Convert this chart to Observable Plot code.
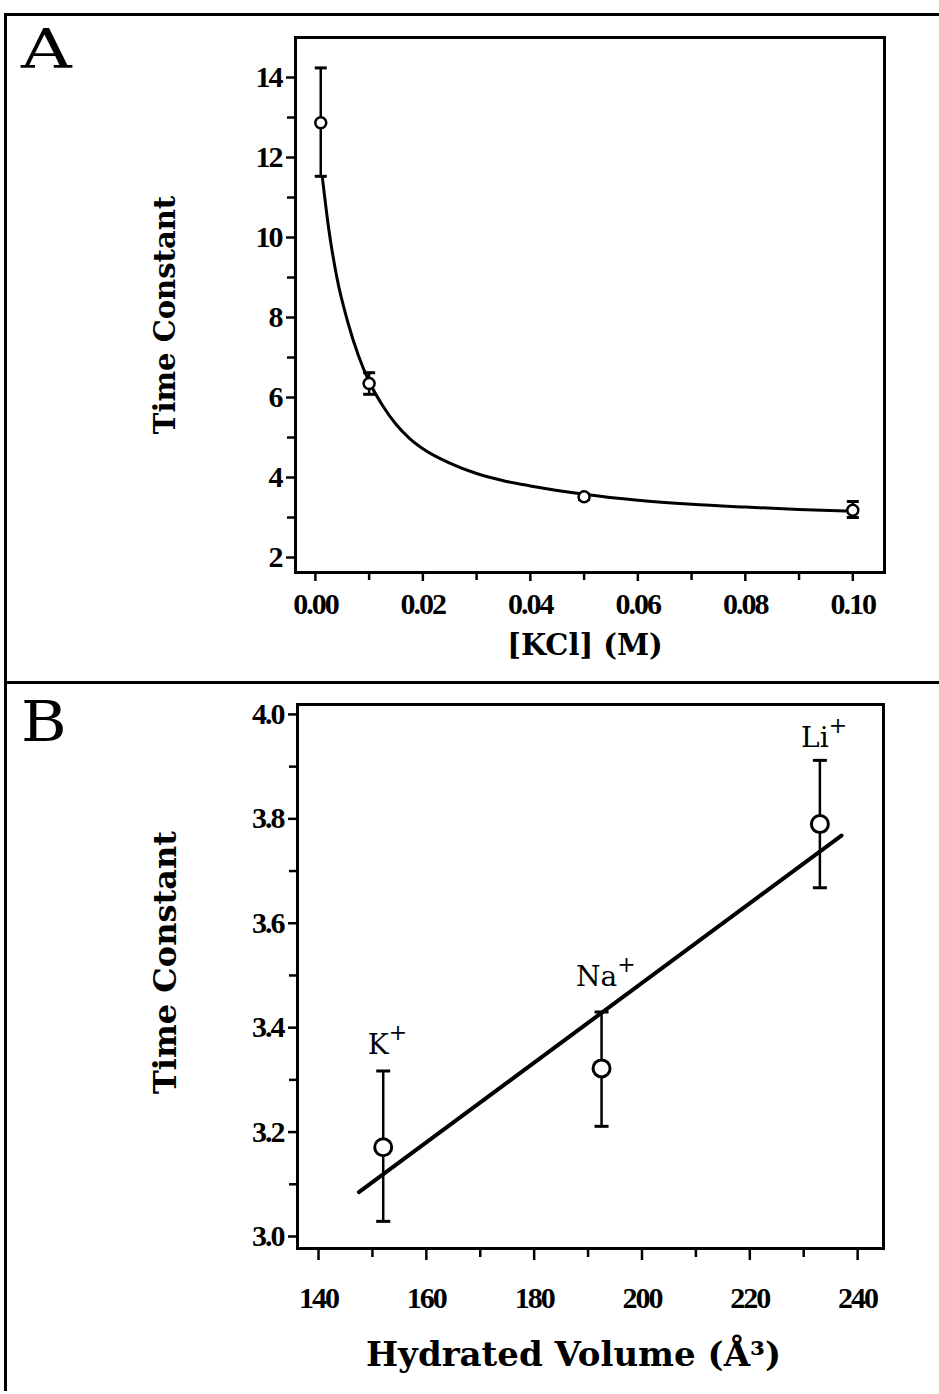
<!DOCTYPE html>
<html><head><meta charset="utf-8">
<script src="https://cdn.jsdelivr.net/npm/d3@7"></script>
<script src="https://cdn.jsdelivr.net/npm/@observablehq/plot@0.6"></script>
<style>
body{margin:0;background:#fff;}
#wrap{position:relative;width:939px;height:1394px;overflow:hidden;background:#fff;}
.panel{position:absolute;left:0;}
.line{position:absolute;background:#000;z-index:5;}
.letter{position:absolute;font-family:"DejaVu Serif",serif;font-size:54px;line-height:1;color:#000;z-index:5;transform-origin:0 0;}
svg g[aria-label$="tick label"]{letter-spacing:-2px;}
</style></head><body>
<div id="wrap">
 <div id="pa" class="panel" style="top:0"></div>
 <div id="pb" class="panel" style="top:683px"></div>
 <div class="line" style="left:4px;top:13px;width:935px;height:3px"></div>
 <div class="line" style="left:4px;top:13px;width:3px;height:1378px"></div>
 <div class="line" style="left:4px;top:681px;width:935px;height:3px"></div>
 <div class="letter" style="left:21px;top:23px;transform:scale(1.3,1)">A</div>
 <div class="letter" style="left:21px;top:694px;transform:scale(1.15,1.05)">B</div>
</div>
<script>
// Panel A data
const kclConc = [0.001, 0.01, 0.05, 0.10];
const kclTau = [12.87, 6.35, 3.52, 3.18];
const kclLow = [11.53, 6.08, 3.45, 3.0];
const kclHigh = [14.24, 6.62, 3.58, 3.4];
const fitConc = [0.0013, 0.0025, 0.004, 0.006, 0.008, 0.01, 0.0125, 0.015, 0.0175, 0.02, 0.025, 0.03, 0.035, 0.04, 0.05, 0.06, 0.07, 0.08, 0.09, 0.1];
const fitTau = [11.5, 10.2, 9.0, 7.9, 7.05, 6.4, 5.8, 5.33, 4.98, 4.72, 4.36, 4.1, 3.92, 3.79, 3.58, 3.43, 3.33, 3.26, 3.2, 3.16];
const kclTicks = [0, 0.02, 0.04, 0.06, 0.08, 0.10];
const kclMinor = [0.01, 0.03, 0.05, 0.07, 0.09];
const tauTicksA = [2, 4, 6, 8, 10, 12, 14];
const tauMinorA = [3, 5, 7, 9, 11, 13];

// Panel B data
const ions = ["K", "Na", "Li"];
const hydVol = [152, 192.5, 233];
const ionTau = [3.171, 3.322, 3.79];
const ionLow = [3.029, 3.211, 3.668];
const ionHigh = [3.317, 3.43, 3.912];
const ionLabelTau = [3.366, 3.497, 3.955];
const lineVol = [147.5, 237];
const lineTau = [3.085, 3.768];
const volTicks = [140, 160, 180, 200, 220, 240];
const volMinor = [150, 170, 190, 210, 230];
const tauTicksB = [3.0, 3.2, 3.4, 3.6, 3.8, 4.0];
const tauMinorB = [3.1, 3.3, 3.5, 3.7, 3.9];

const capSymbol = {draw(ctx, size) { const w = Math.sqrt(size / Math.PI); ctx.moveTo(-w, 0); ctx.lineTo(w, 0); }};
const tickFont = "'Liberation Serif', serif";
const titleFont = "'DejaVu Serif', serif";
const ionFontSize = 28;

const rowsA = kclConc.map((x, i) => ({x, y: kclTau[i], lo: kclLow[i], hi: kclHigh[i]}));
const fitA = fitConc.map((x, i) => ({x, y: fitTau[i]}));

const plotA = Plot.plot({
  width: 939, height: 683,
  marginLeft: 295, marginRight: 55, marginTop: 37, marginBottom: 111,
  style: {background: "transparent", fontFamily: tickFont, fontSize: "30px", color: "#000", overflow: "visible"},
  x: {domain: [-0.0037, 0.1059]},
  y: {domain: [1.625, 15]},
  marks: [
    Plot.frame({stroke: "#000", strokeWidth: 3}),
    Plot.axisX(kclTicks, {tickSize: 9, tickPadding: 11, strokeWidth: 2.5, tickFormat: d3.format(".2f"), fontSize: 30, fontWeight: "bold", label: null}),
    Plot.axisX(kclMinor, {tickSize: 8, strokeWidth: 2.5, text: null, label: null}),
    Plot.axisY(tauTicksA, {tickSize: 9, tickPadding: 5, strokeWidth: 2.5, fontSize: 30, fontWeight: "bold", label: null}),
    Plot.axisY(tauMinorA, {tickSize: 8, strokeWidth: 2.5, text: null, label: null}),
    Plot.text(["[KCl] (M)"], {frameAnchor: "bottom", dx: -5, dy: 82, fontFamily: titleFont, fontSize: 29, fontWeight: "bold"}),
    Plot.text(["Time Constant"], {frameAnchor: "left", textAnchor: "middle", dx: -130, dy: 10, rotate: -90, fontFamily: titleFont, fontSize: 29, fontWeight: "bold"}),
    Plot.line(fitA, {x: "x", y: "y", curve: "monotone-x", stroke: "#000", strokeWidth: 3}),
    Plot.ruleX(rowsA, {x: "x", y1: "lo", y2: "hi", stroke: "#000", strokeWidth: 2.5}),
    Plot.dot(rowsA, {x: "x", y: "lo", symbol: capSymbol, r: 6, stroke: "#000", strokeWidth: 3, fill: "none"}),
    Plot.dot(rowsA, {x: "x", y: "hi", symbol: capSymbol, r: 6, stroke: "#000", strokeWidth: 3, fill: "none"}),
    Plot.dot(rowsA, {x: "x", y: "y", r: 5.5, fill: "#fff", stroke: "#000", strokeWidth: 2.5})
  ]
});
document.getElementById("pa").appendChild(plotA);

const rowsB = ions.map((name, i) => ({name, x: hydVol[i], y: ionTau[i], lo: ionLow[i], hi: ionHigh[i], ly: ionLabelTau[i]}));
const fitB = lineVol.map((x, i) => ({x, y: lineTau[i]}));

// measure ion label widths so the "+" superscript sits right after each name
const ctx = document.createElement("canvas").getContext("2d");
ctx.font = `${ionFontSize}px 'DejaVu Serif'`;
const plusMarks = rowsB.map(d => Plot.text([d], {
  x: "x", y: "ly", text: () => "+", textAnchor: "start",
  dx: ctx.measureText(d.name).width / 2 - 5, dy: -12,
  fontFamily: titleFont, fontSize: 22
}));

const plotB = Plot.plot({
  width: 939, height: 711,
  marginLeft: 297, marginRight: 56, marginTop: 21, marginBottom: 146,
  style: {background: "transparent", fontFamily: tickFont, fontSize: "30px", color: "#000", overflow: "visible"},
  x: {domain: [136.1, 244.8]},
  y: {domain: [2.977, 4.019]},
  marks: [
    Plot.frame({stroke: "#000", strokeWidth: 3}),
    Plot.axisX(volTicks, {tickSize: 12, tickPadding: 26, strokeWidth: 2.5, fontSize: 30, fontWeight: "bold", label: null}),
    Plot.axisX(volMinor, {tickSize: 9, strokeWidth: 2.5, text: null, label: null}),
    Plot.axisY(tauTicksB, {tickSize: 9, tickPadding: 5, strokeWidth: 2.5, tickFormat: d3.format(".1f"), fontSize: 30, fontWeight: "bold", label: null}),
    Plot.axisY(tauMinorB, {tickSize: 8, strokeWidth: 2.5, text: null, label: null}),
    Plot.text(["Hydrated Volume (Å³)"], {frameAnchor: "bottom", dx: -17, dy: 117, fontFamily: titleFont, fontSize: 34, fontWeight: "bold"}),
    Plot.text(["Time Constant"], {frameAnchor: "left", textAnchor: "middle", dx: -132, dy: -14, rotate: -90, fontFamily: titleFont, fontSize: 32, fontWeight: "bold"}),
    Plot.line(fitB, {x: "x", y: "y", stroke: "#000", strokeWidth: 4}),
    Plot.ruleX(rowsB, {x: "x", y1: "lo", y2: "hi", stroke: "#000", strokeWidth: 2.5}),
    Plot.dot(rowsB, {x: "x", y: "lo", symbol: capSymbol, r: 7, stroke: "#000", strokeWidth: 3, fill: "none"}),
    Plot.dot(rowsB, {x: "x", y: "hi", symbol: capSymbol, r: 7, stroke: "#000", strokeWidth: 3, fill: "none"}),
    Plot.dot(rowsB, {x: "x", y: "y", r: 8.5, fill: "#fff", stroke: "#000", strokeWidth: 3}),
    Plot.text(rowsB, {x: "x", y: "ly", text: "name", dx: -5, fontFamily: titleFont, fontSize: ionFontSize, fontWeight: "normal"}),
    ...plusMarks
  ]
});
document.getElementById("pb").appendChild(plotB);
</script>
</body></html>
